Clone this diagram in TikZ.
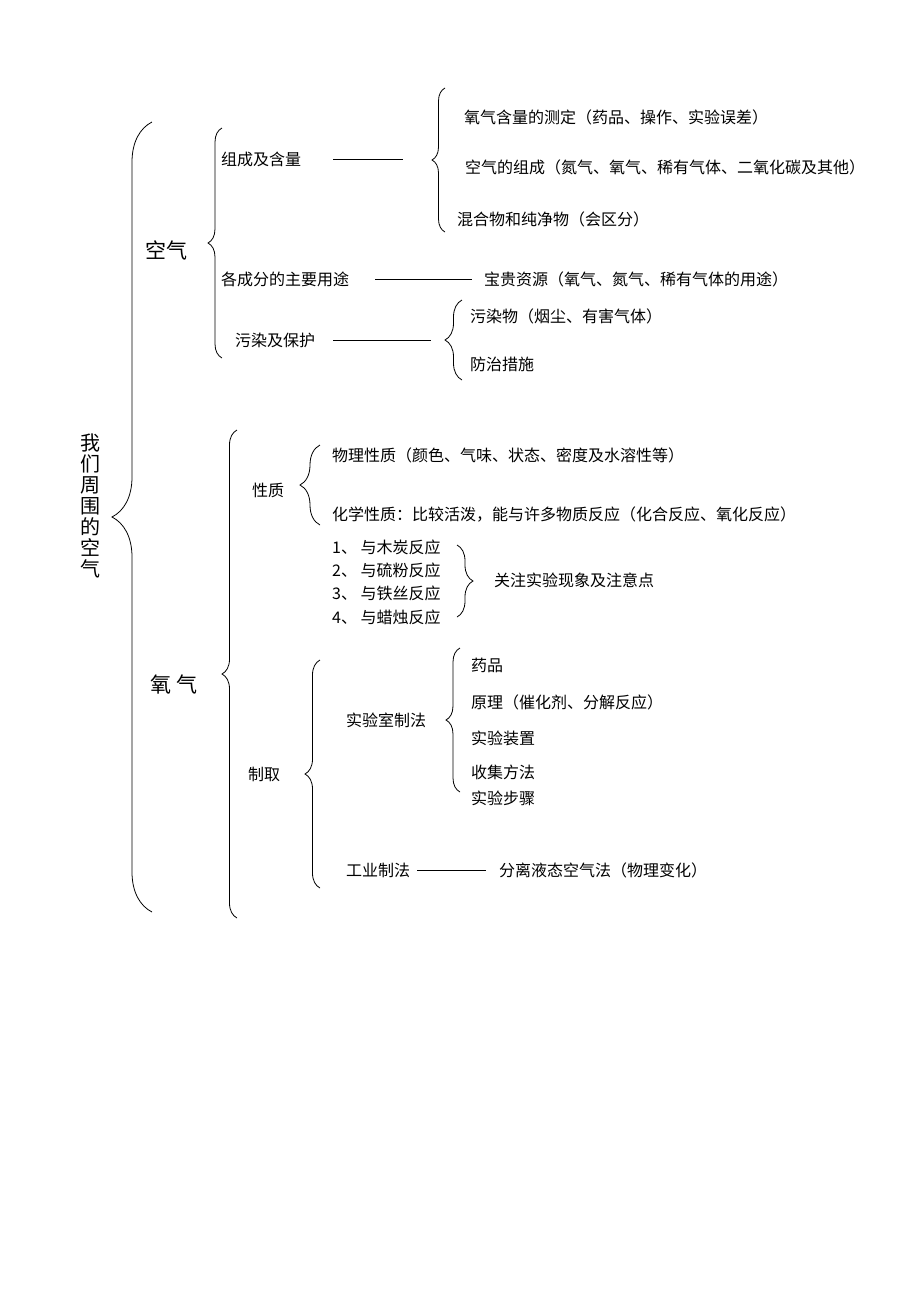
\documentclass[tikz,border=0pt]{standalone}
\usepackage{fontspec}
\usepackage{tikz}
\usetikzlibrary{decorations.pathreplacing}
\newfontfamily\cjk{Noto Sans CJK SC}
\tikzstyle{item}=[anchor=west,inner sep=0pt,font=\cjk\fontsize{16}{19}\selectfont]
\tikzstyle{head}=[anchor=west,inner sep=0pt,font=\cjk\fontsize{21}{21}\selectfont]
\tikzstyle{edge}=[draw,line width=0.8pt,-]
\tikzset{curly/.style={draw,line width=0.8pt,decorate,decoration={brace,amplitude=#1}}}

\begin{document}
\begin{tikzpicture}[x=1pt,y=-1pt]
        \useasboundingbox (0,0) rectangle (920,1302);
        \node[inner sep=0pt,align=center,font=\cjk\fontsize{20}{21.1}\selectfont] (r) at (90,506) {我\\们\\周\\围\\的\\空\\气};
        \node[head] (kq) at (145,250) {空气};
        \node[head] (yq) at (150,684) {氧\hspace{5pt}气};
        % air
        \node[item] (zc) at (221,159) {组成及含量};
        \node[item] (cf) at (221,279) {各成分的主要用途};
        \node[item] (wr) at (235,340) {污染及保护};
        \node[item] (z1) at (464,117) {氧气含量的测定（药品、操作、实验误差）};
        \node[item] (z2) at (465,167) {空气的组成（氮气、氧气、稀有气体、二氧化碳及其他）};
        \node[item] (z3) at (457,219) {混合物和纯净物（会区分）};
        \node[item] (yt) at (484,279) {宝贵资源（氧气、氮气、稀有气体的用途）};
        \node[item] (w1) at (470,316) {污染物（烟尘、有害气体）};
        \node[item] (w2) at (470,364) {防治措施};
        % oxygen
        \node[item] (xz) at (252,490) {性质};
        \node[item] (x1) at (332,455) {物理性质（颜色、气味、状态、密度及水溶性等）};
        \node[item] (x2) at (332,514) {化学性质：比较活泼，能与许多物质反应（化合反应、氧化反应）};
        \node[item] (f1) at (332,547) {1、 与木炭反应};
        \node[item] (f2) at (332,570) {2、 与硫粉反应};
        \node[item] (f3) at (332,593) {3、 与铁丝反应};
        \node[item] (f4) at (332,617) {4、 与蜡烛反应};
        \node[item] (gz) at (494,580) {关注实验现象及注意点};
        \node[item] (zq) at (248,774) {制取};
        \node[item] (sy) at (346,720) {实验室制法};
        \node[item] (s1) at (471,665) {药品};
        \node[item] (s2) at (471,702) {原理（催化剂、分解反应）};
        \node[item] (s3) at (471,738) {实验装置};
        \node[item] (s4) at (471,772) {收集方法};
        \node[item] (s5) at (471,798) {实验步骤};
        \node[item] (gy) at (346,870) {工业制法};
        \node[item] (fl) at (499,870) {分离液态空气法（物理变化）};
        % brace ends and tips
        \coordinate (b1t) at (152,122); \coordinate (b1b) at (152,912);
        \coordinate (b2t) at (222,128); \coordinate (b2b) at (222,358);
        \coordinate (b3t) at (445,88);  \coordinate (b3b) at (445,232);
        \coordinate (b4t) at (462,300); \coordinate (b4b) at (462,380);
        \coordinate (b5t) at (237,430); \coordinate (b5b) at (237,918);
        \coordinate (b6t) at (320,445); \coordinate (b6b) at (320,525);
        \coordinate (b7t) at (457,545); \coordinate (b7b) at (457,617);
        \coordinate (b8t) at (320,660); \coordinate (b8b) at (320,888);
        \coordinate (b9t) at (460,648); \coordinate (b9b) at (460,792);
        \coordinate (t3) at (432,159);
        \coordinate (t4) at (445,340);
        \draw[curly=40] (b1b) -- (b1t);
        \draw[curly=14] (b2b) -- (b2t);
        \draw[curly=13] (b3b) -- (b3t);
        \draw[curly=17] (b4b) -- (b4t);
        \draw[curly=15] (b5b) -- (b5t);
        \draw[curly=20] (b6b) -- (b6t);
        \draw[curly=16] (b7t) -- (b7b);
        \draw[curly=15] (b8b) -- (b8t);
        \draw[curly=14] (b9b) -- (b9t);
        \draw[edge,shorten <=32pt,shorten >=29pt] (zc) to (t3);
        \draw[edge,shorten <=26pt,shorten >=12pt] (cf) to (yt);
        \draw[edge,shorten <=18pt,shorten >=14pt] (wr) to (t4);
        \draw[edge,shorten <=7pt,shorten >=13pt] (gy) to (fl);
      \end{tikzpicture}
\end{document}
